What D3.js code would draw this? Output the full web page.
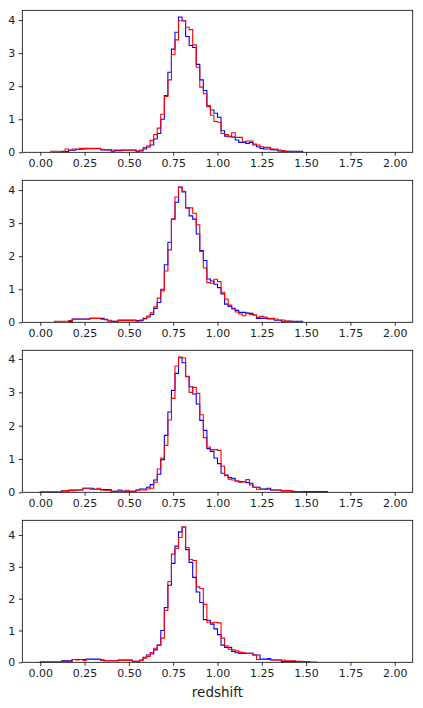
<!DOCTYPE html>
<html>
<head>
<meta charset="utf-8">
<script src="https://cdn.jsdelivr.net/npm/d3@7"></script>
<style>
  body { margin: 0; background: #fff; }
  svg text { font-family: "DejaVu Sans", sans-serif; }
</style>
</head>
<body>
<div id="chart"></div>
<script>
// bin grid shared by every histogram
var binStart = 0.0;
var binWidth = 0.02;
var xTicks = [0, 0.25, 0.5, 0.75, 1.0, 1.25, 1.5, 1.75, 2.0];
var yTicks = [0, 1, 2, 3, 4];
var xLabel = "redshift";

// panel 1
var blue1 = [0,0,0,0,0,0,0.02,0.02,0.06,0.06,
  0.09,0.09,0.10,0.11,0.11,0.11,0.11,0.07,0.07,0.07,
  0.03,0.05,0.05,0.07,0.07,0.07,0.07,0.03,0.04,0.10,
  0.16,0.22,0.40,0.57,1.00,1.72,2.42,3.12,3.63,4.09,
  3.98,3.50,3.23,3.17,2.66,2.19,1.87,1.41,1.28,1.18,
  1.06,0.65,0.49,0.47,0.46,0.37,0.30,0.30,0.27,0.30,
  0.22,0.17,0.12,0.10,0.10,0.08,0.07,0.04,0.03,0.03,
  0.03,0.03,0.03,0.03,0,0,0,0,0,0,0,0];
var red1 = [0,0,0,0.03,0.03,0.03,0.03,0.10,0.07,0.10,
  0.09,0.12,0.12,0.12,0.12,0.12,0.12,0.09,0.08,0.08,
  0.07,0.07,0.07,0.06,0.06,0.06,0.06,0.04,0.07,0.14,
  0.19,0.36,0.54,0.73,1.15,1.69,2.19,2.95,3.40,3.98,
  3.98,3.78,3.71,3.25,2.57,1.97,1.77,1.38,1.12,0.93,
  0.91,0.57,0.54,0.49,0.59,0.45,0.45,0.32,0.34,0.34,
  0.25,0.22,0.17,0.15,0.15,0.10,0.10,0.07,0.05,0.03,
  0,0,0,0,0,0,0,0,0,0,0,0];

// panel 2
var blue2 = [0,0,0,0,0,0,0,0,0.02,0.10,
  0.10,0.10,0.10,0.10,0.12,0.12,0.12,0.12,0.08,0.04,
  0.03,0.03,0.07,0.07,0.07,0.07,0.07,0.05,0.05,0.12,
  0.16,0.24,0.42,0.60,1.00,1.74,2.42,3.12,3.63,4.09,
  3.94,3.46,3.22,3.12,2.67,2.17,1.87,1.31,1.25,1.15,
  1.05,0.86,0.55,0.48,0.42,0.36,0.30,0.30,0.28,0.27,
  0.22,0.12,0.12,0.12,0.10,0.10,0.06,0.06,0.03,0.03,
  0.03,0.03,0.03,0.03,0,0,0,0,0,0,0,0];
var red2 = [0,0,0,0,0.03,0.03,0.03,0.03,0.05,0.09,
  0.09,0.09,0.09,0.09,0.12,0.12,0.12,0.09,0.09,0.06,
  0.03,0.03,0.05,0.05,0.05,0.05,0.05,0.03,0.07,0.10,
  0.19,0.29,0.47,0.73,0.95,1.55,2.19,3.12,3.79,4.08,
  3.96,3.46,3.46,3.30,2.95,2.14,1.64,1.20,1.18,1.30,
  1.23,0.91,0.70,0.52,0.40,0.31,0.25,0.20,0.27,0.24,
  0.22,0.15,0.18,0.16,0.12,0.12,0.10,0.07,0.07,0.04,
  0.04,0.02,0.02,0.02,0,0,0,0,0,0,0,0];

// panel 3
var blue3 = [0.01,0.01,0.01,0.01,0.01,0.01,0.01,0.01,0.07,0.07,
  0.07,0.07,0.12,0.12,0.12,0.09,0.09,0.08,0.08,0.08,
  0.03,0.03,0.07,0.03,0.03,0.03,0.03,0.07,0.10,0.10,
  0.15,0.23,0.37,0.54,0.98,1.71,2.41,3.06,3.57,4.04,
  3.89,3.47,3.17,2.95,2.65,2.16,1.86,1.31,1.23,1.03,
  0.86,0.57,0.52,0.44,0.42,0.34,0.32,0.32,0.29,0.27,
  0.15,0.15,0.10,0.10,0.12,0.07,0.07,0.07,0.04,0.04,
  0.04,0.02,0.02,0.02,0.02,0.02,0.02,0.02,0.02,0.02,0.02,0];
var red3 = [0.01,0.01,0.01,0.01,0.01,0.01,0.05,0.05,0.05,0.05,
  0.07,0.07,0.12,0.12,0.09,0.09,0.12,0.07,0.06,0.06,
  0.03,0.03,0.03,0.03,0.06,0.03,0.03,0.06,0.07,0.07,
  0.10,0.12,0.30,0.70,1.03,1.41,2.17,2.82,3.79,4.06,
  4.03,3.48,3.00,3.15,2.97,2.33,1.64,1.36,1.28,1.28,
  1.26,0.78,0.50,0.39,0.37,0.34,0.30,0.32,0.38,0.22,
  0.15,0.09,0.09,0.09,0.09,0.07,0.07,0.07,0.05,0.05,
  0.05,0.03,0.02,0.02,0.01,0.01,0.01,0.01,0.01,0.01,0.01,0];

// panel 4
var blue4 = [0.01,0.01,0.01,0.01,0.01,0.01,0.05,0.05,0.05,0.09,
  0.09,0.09,0.09,0.10,0.10,0.10,0.10,0.08,0.05,0.05,
  0.05,0.05,0.07,0.07,0.07,0.07,0.03,0.03,0.07,0.16,
  0.23,0.26,0.39,0.54,1.00,1.72,2.42,3.11,3.65,4.10,
  4.25,3.54,3.14,2.67,2.21,1.88,1.34,1.32,1.20,1.05,
  0.87,0.54,0.47,0.47,0.34,0.30,0.28,0.28,0.28,0.28,
  0.23,0.23,0.10,0.10,0.12,0.07,0.07,0.07,0.02,0.02,
  0.02,0.02,0.02,0.02,0,0,0,0,0,0,0,0];
var red4 = [0.01,0.01,0.01,0.01,0.01,0.01,0.03,0.03,0.03,0.09,
  0.07,0.09,0.06,0.09,0.09,0.09,0.09,0.06,0.05,0.05,
  0.05,0.05,0.06,0.06,0.06,0.06,0.03,0.03,0.05,0.13,
  0.18,0.31,0.44,0.54,0.76,1.63,2.54,3.40,3.58,3.92,
  4.25,3.61,3.23,3.20,2.37,2.32,1.82,1.26,1.24,1.26,
  1.24,0.76,0.52,0.41,0.39,0.36,0.32,0.30,0.28,0.28,
  0.23,0.09,0.09,0.09,0.09,0.07,0.07,0.07,0.07,0.05,
  0.05,0.05,0.03,0.03,0.02,0.02,0.01,0.01,0,0,0,0];

var panels = [
  { blue: blue1, red: red1 },
  { blue: blue2, red: red2 },
  { blue: blue3, red: red3 },
  { blue: blue4, red: red4 }
];

var width = 423, height = 708;
var left = 22.3, right = 412.7;
var panelTop = 10.3, panelH = 142, panelStep = 170;

var svg = d3.select("#chart").append("svg")
  .attr("width", width)
  .attr("height", height);

var x = d3.scaleLinear().domain([-0.1015, 2.1015]).range([left, right]);

// turn a list of bin heights into the outline of a step histogram
function stepPoints(values) {
  var first = values.findIndex(function (v) { return v > 0; });
  var last = values.length - 1;
  while (last > 0 && values[last] <= 0) last--;
  var pts = [[binStart + first * binWidth, 0]];
  for (var i = first; i <= last; i++) {
    var e0 = binStart + i * binWidth;
    pts.push([e0, values[i]]);
    pts.push([e0 + binWidth, values[i]]);
  }
  pts.push([binStart + (last + 1) * binWidth, 0]);
  return pts;
}

panels.forEach(function (p, i) {
  var top = panelTop + i * panelStep;
  var bottom = top + panelH;
  var ymax = d3.max(p.blue.concat(p.red)) * 1.05;
  var y = d3.scaleLinear().domain([0, ymax]).range([bottom, top]);

  var g = svg.append("g");

  g.append("clipPath").attr("id", "clip" + i)
    .append("rect")
    .attr("x", left).attr("y", top)
    .attr("width", right - left).attr("height", panelH);

  var line = d3.line()
    .x(function (d) { return x(d[0]); })
    .y(function (d) { return y(d[1]); });

  [["blue", "#0000ff"], ["red", "#ff0000"]].forEach(function (s) {
    g.append("path")
      .attr("clip-path", "url(#clip" + i + ")")
      .attr("d", line(stepPoints(p[s[0]])))
      .attr("fill", "none")
      .attr("stroke", s[1])
      .attr("stroke-width", 1.1)
      .attr("stroke-linejoin", "miter");
  });

  var xAxis = g.append("g")
    .attr("transform", "translate(0," + bottom + ")")
    .call(d3.axisBottom(x).tickValues(xTicks).tickFormat(d3.format(".2f"))
      .tickSize(3.5).tickPadding(3.5));
  var yAxis = g.append("g")
    .attr("transform", "translate(" + left + ",0)")
    .call(d3.axisLeft(y).tickValues(yTicks).tickFormat(d3.format("d"))
      .tickSize(3.5).tickPadding(3.5));

  [xAxis, yAxis].forEach(function (a) {
    a.select(".domain").remove();
    a.selectAll("line").attr("stroke", "#000").attr("stroke-width", 0.8);
    a.selectAll("text").attr("fill", "#222").style("font-size", "11px");
  });

  // frame
  g.append("rect")
    .attr("x", left).attr("y", top)
    .attr("width", right - left).attr("height", panelH)
    .attr("fill", "none")
    .attr("stroke", "#000")
    .attr("stroke-width", 0.8);
});

svg.append("text")
  .attr("x", x(1.0))
  .attr("y", panelTop + 3 * panelStep + panelH + 35)
  .attr("text-anchor", "middle")
  .style("font-size", "13.5px")
  .attr("fill", "#222")
  .text(xLabel);
</script>
</body>
</html>
